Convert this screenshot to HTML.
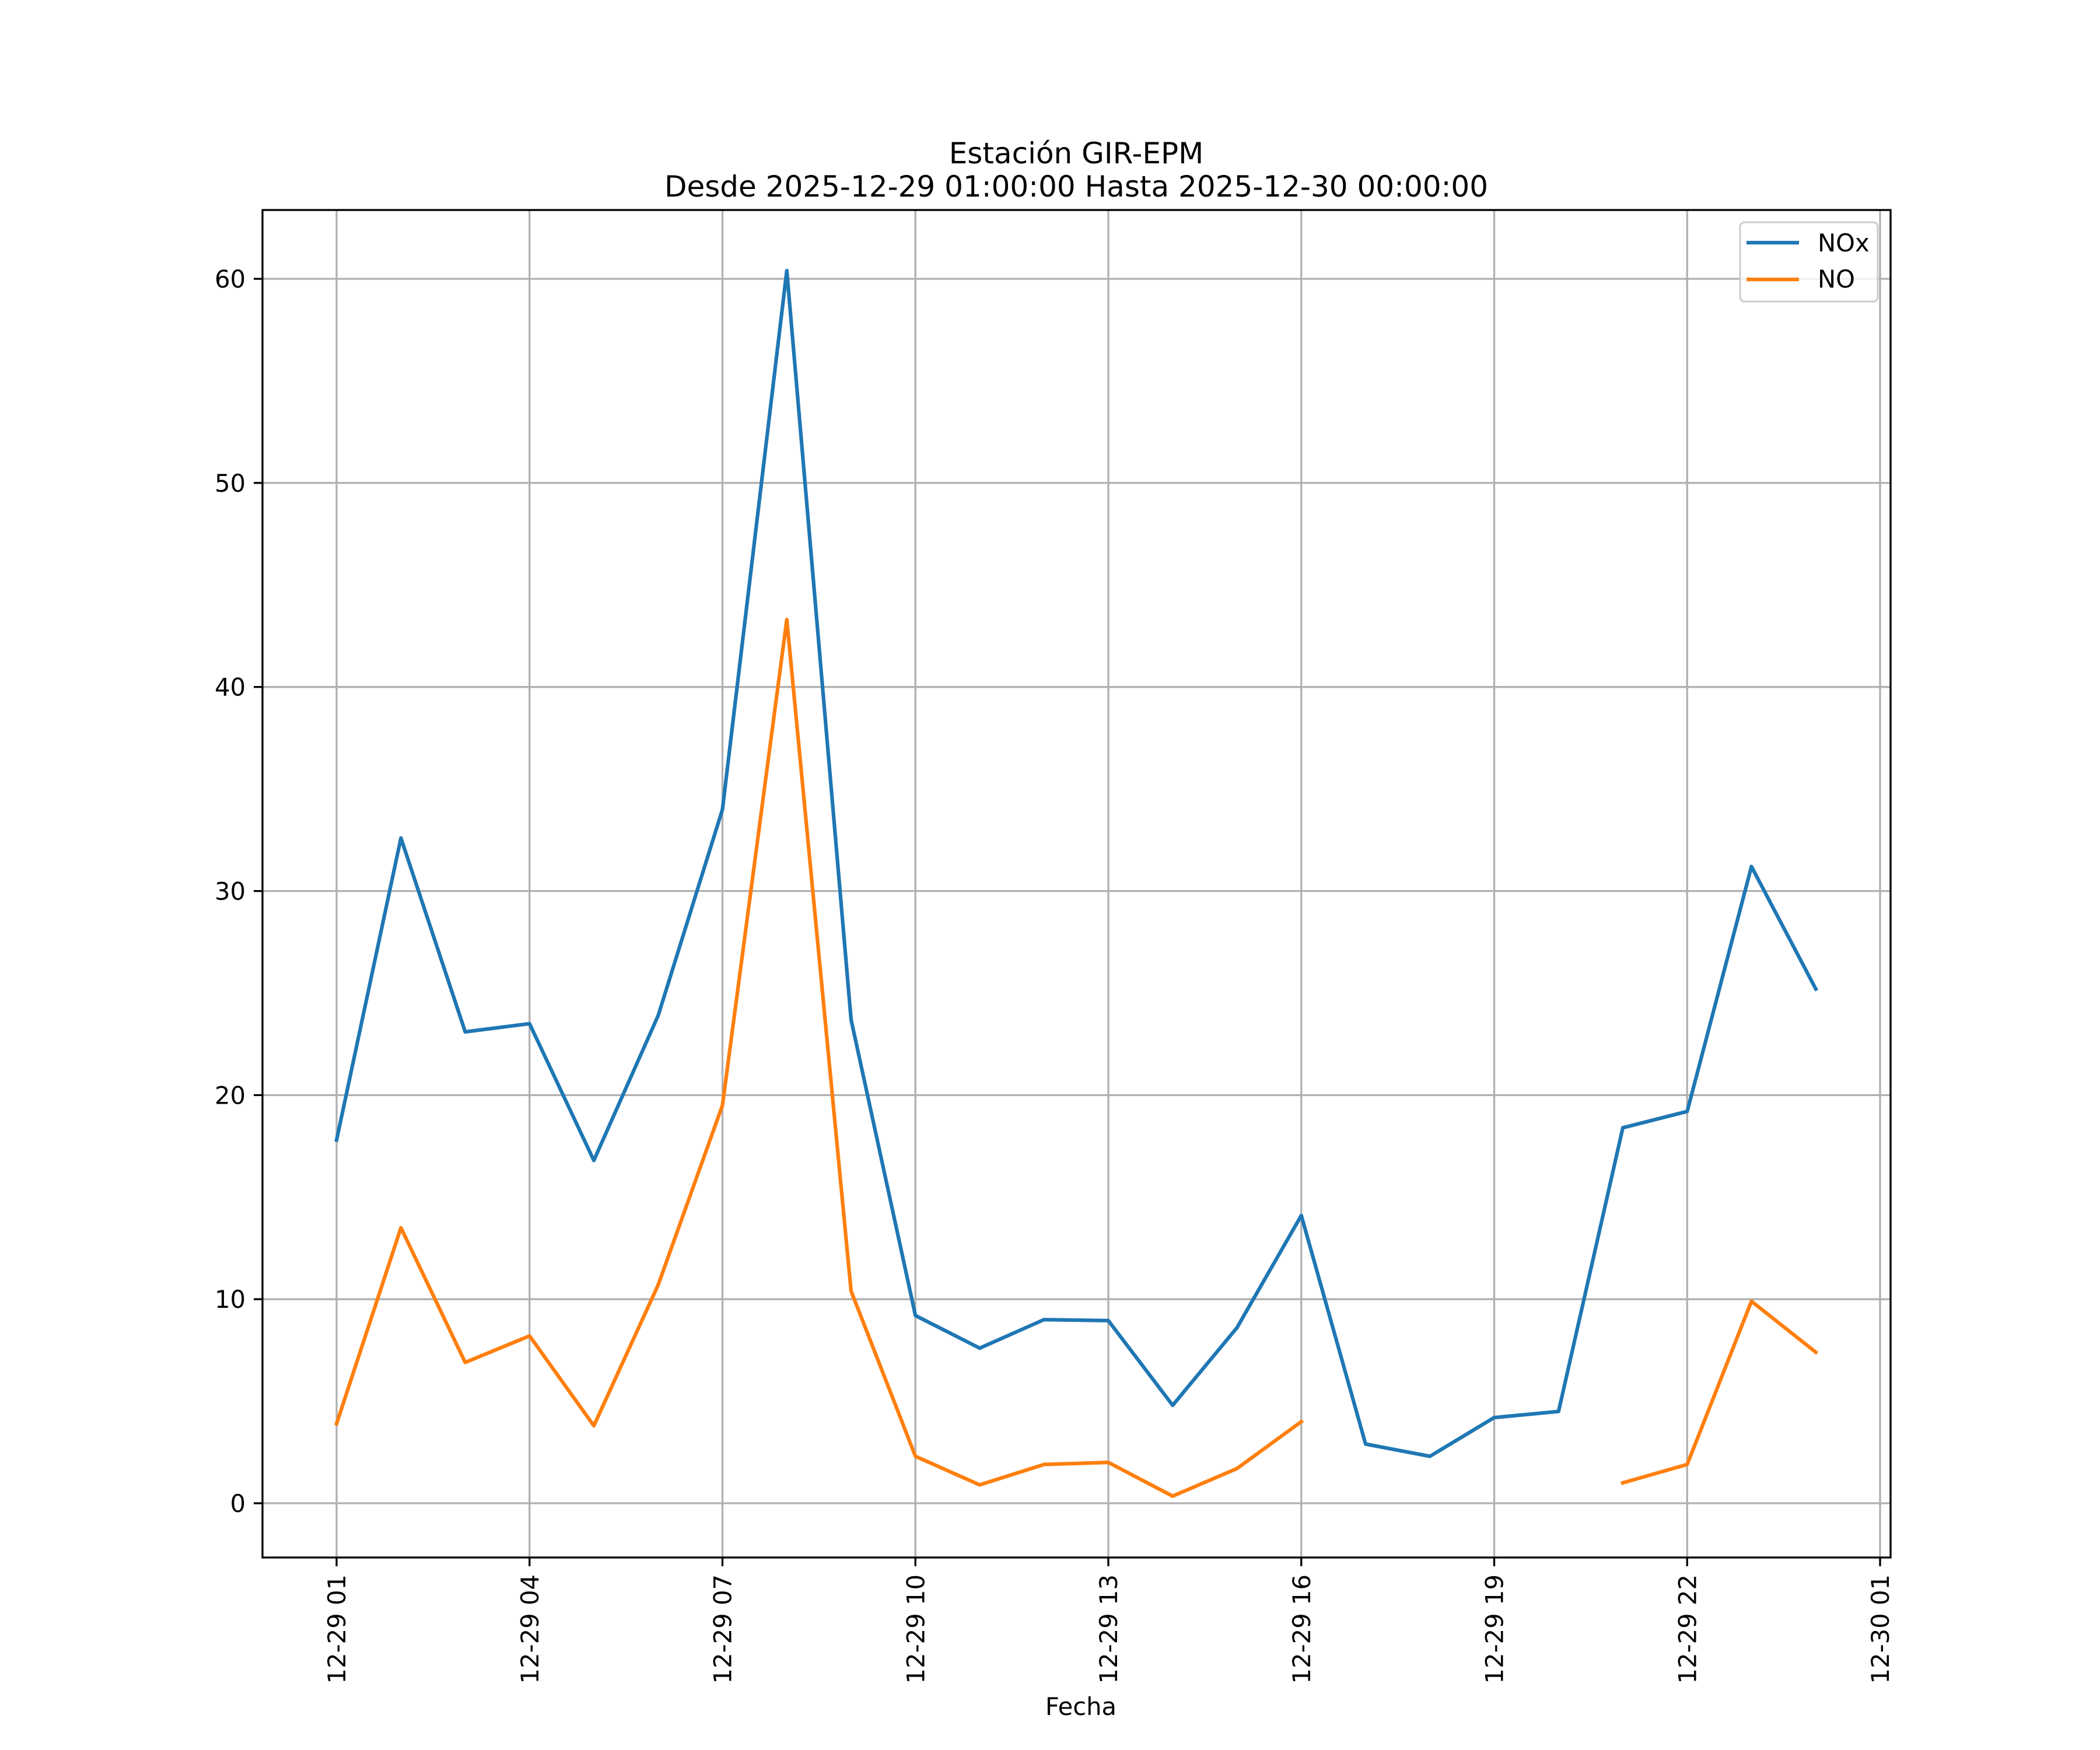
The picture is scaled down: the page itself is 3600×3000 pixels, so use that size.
<!DOCTYPE html>
<html><head><meta charset="utf-8"><style>
body{margin:0;background:#fff}
svg{display:block;font-family:"DejaVu Sans","Liberation Sans",sans-serif}
</style></head><body>
<svg id="chart" width="3600" height="3000" viewBox="0 0 3600 3000">
<rect width="3600" height="3000" fill="#fff"/>
<g id="grid"></g>
<g id="series"></g>
<rect x="450" y="360" width="2791" height="2310" fill="none" stroke="#000" stroke-width="3.3"/>
<g id="ticks"></g>
<text x="1845" y="280" font-size="50" text-anchor="middle">Estación GIR-EPM</text>
<text x="1845" y="337" font-size="50" text-anchor="middle">Desde 2025-12-29 01:00:00 Hasta 2025-12-30 00:00:00</text>
<text x="1853" y="2940" font-size="41.7" text-anchor="middle">Fecha</text>
<g>
<rect x="2983" y="381" width="236" height="136" rx="8" fill="#fff" fill-opacity="0.8" stroke="#ccc" stroke-width="3"/>
<line x1="2994" y1="416" x2="3084" y2="416" stroke="#1f77b4" stroke-width="6.25"/>
<text x="3116" y="431" font-size="41.7">NOx</text>
<line x1="2994" y1="479" x2="3084" y2="479" stroke="#ff7f0e" stroke-width="6.25"/>
<text x="3116" y="493" font-size="41.7">NO</text>
</g>
</svg>
<script>
const hours = [1,2,3,4,5,6,7,8,9,10,11,12,13,14,15,16,17,18,19,20,21,22,23,24];
const noxValues = [17.8,32.6,23.1,23.5,16.8,23.9,34.0,60.4,23.7,9.2,7.6,9.0,8.95,4.8,8.6,14.1,2.9,2.3,4.2,4.5,18.4,19.2,31.2,25.2];
const noValues = [3.9,13.5,6.9,8.2,3.8,10.7,19.5,43.3,10.4,2.3,0.9,1.9,2.0,0.35,1.7,4.0,null,null,null,null,1.0,1.9,9.9,7.4];
const yTicks = [0,10,20,30,40,50,60];
const xTickHours = [1,4,7,10,13,16,19,22,25];
const xTickLabels = ["12-29 01","12-29 04","12-29 07","12-29 10","12-29 13","12-29 16","12-29 19","12-29 22","12-30 01"];

const NS="http://www.w3.org/2000/svg";
const L=450,R=3241,T=360,B=2670;
function xs(h){return 577+(h-1)*110.25;}
function ys(v){return 2577-v*34.983;}
function mk(tag,attrs,parent){const e=document.createElementNS(NS,tag);for(const k in attrs)e.setAttribute(k,attrs[k]);document.getElementById(parent).appendChild(e);return e;}

yTicks.forEach((v,i)=>{
  const y=ys(v);
  const g=mk('line',{x1:L,x2:R,y1:y,y2:y,stroke:'#b0b0b0','stroke-width':3.3},'grid');
  
  
  const t=mk('line',{x1:L-15,x2:L,y1:y,y2:y,stroke:'#000','stroke-width':3.3},'ticks');
  
  
  const tx=mk('text',{x:L-29,y:y+15,'font-size':41.7,'text-anchor':'end'},'ticks');
  tx.textContent=String(v);
  
  
});
xTickHours.forEach((h,i)=>{
  const x=xs(h);
  const g=mk('line',{x1:x,x2:x,y1:T,y2:B,stroke:'#b0b0b0','stroke-width':3.3},'grid');
  
  
  const t=mk('line',{x1:x,x2:x,y1:B,y2:B+15,stroke:'#000','stroke-width':3.3},'ticks');
  
  
  const tx=mk('text',{x:0,y:0,'font-size':41.7,'text-anchor':'end',transform:`translate(${x+15},${B+29}) rotate(-90)`},'ticks');
  tx.textContent=xTickLabels[i];
  
  
});
function drawSeries(vals,color,name){
  let d='',pen=false;
  vals.forEach((v,i)=>{
    if(v===null){pen=false;return;}
    d+=(pen?'L':'M')+xs(hours[i]).toFixed(1)+','+ys(v).toFixed(1);
    pen=true;
  });
  const p=mk('path',{d:d,fill:'none',stroke:color,'stroke-width':6.25,'stroke-linejoin':'round','stroke-linecap':'square'},'series');
  
  
}
drawSeries(noxValues,'#1f77b4','nox-line');
drawSeries(noValues,'#ff7f0e','no-line');
</script>
</body></html>
